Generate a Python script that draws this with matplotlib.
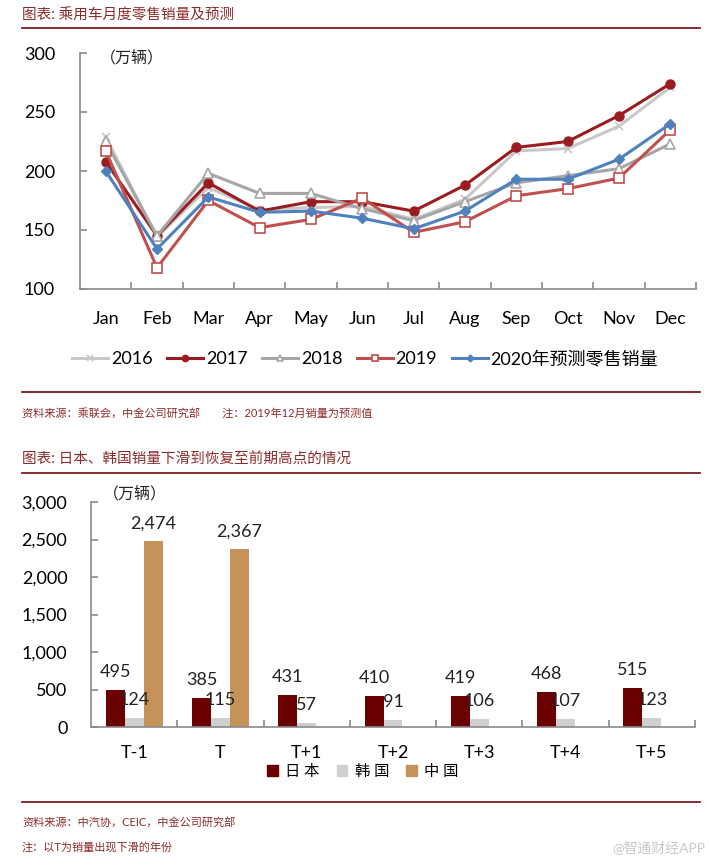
import matplotlib
matplotlib.use("Agg")
import matplotlib.pyplot as plt
from matplotlib.lines import Line2D
from matplotlib.patches import Patch
from matplotlib.ticker import FuncFormatter
import numpy as np

plt.rcParams['font.family'] = ['Lato', 'Noto Sans CJK SC', 'DejaVu Sans']

# monthly retail sales (万辆)
months = ['Jan', 'Feb', 'Mar', 'Apr', 'May', 'Jun', 'Jul', 'Aug', 'Sep', 'Oct', 'Nov', 'Dec']
sales_2016 = [229, 144, 186, 167, 169, 170, 159, 176, 217, 219, 238, 271]
sales_2017 = [208, 145, 190, 166, 174, 174, 166, 188, 220, 225, 247, 274]
sales_2018 = [225, 145, 198, 181, 181, 168, 158, 174, 190, 196, 202, 223]
sales_2019 = [217, 118, 175, 152, 159, 177, 148, 157, 179, 185, 194, 235]
sales_2020 = [200, 134, 178, 165, 166, 160, 151, 166, 193, 193, 210, 240]
line_labels = ['2016', '2017', '2018', '2019', '2020年预测零售销量']

# japan / korea / china sales around the downturn year T
periods = ['T-1', 'T', 'T+1', 'T+2', 'T+3', 'T+4', 'T+5']
japan = [495, 385, 431, 410, 419, 468, 515]
korea = [124, 115, 57, 91, 106, 107, 123]
china = [2474, 2367, np.nan, np.nan, np.nan, np.nan, np.nan]
bar_labels = ['日 本', '韩 国', '中 国']

W, H = 709, 867
dark_red = '#8B2B2B'
rule_red = '#7A1E1E'
axis_gray = '#8A8A8A'


def fx(px):
    return px / W


def fy(py):
    return 1 - py / H


fig = plt.figure(figsize=(W / 100, H / 100), dpi=100)


def rule(y):
    fig.add_artist(Line2D([fx(22), fx(700)], [fy(y), fy(y)], transform=fig.transFigure,
                          color=rule_red, lw=1.3))


def style_axes(ax, pad, xpad):
    for s in ['top', 'right']:
        ax.spines[s].set_visible(False)
    for s in ['left', 'bottom']:
        ax.spines[s].set_color(axis_gray)
        ax.spines[s].set_linewidth(1.2)
    ax.tick_params(axis='y', direction='in', length=5, width=1.2, color=axis_gray,
                   labelsize=13, pad=pad)
    ax.tick_params(axis='x', which='major', length=0, labelsize=13, pad=xpad)
    ax.tick_params(axis='x', which='minor', direction='in', length=5, width=1.2, color=axis_gray)


# ---------------- top chart: monthly line chart ----------------
fig.text(fx(22), fy(15), '图表: 乘用车月度零售销量及预测', color=dark_red, fontsize=10.5,
         va='center', ha='left')
rule(28)

ax1 = fig.add_axes([fx(80), fy(289), fx(696) - fx(80), fy(53) - fy(289)])
x = np.arange(len(months)) + 0.5
ax1.plot(x, sales_2016, color='#C8C8C8', lw=2.2, marker='x', ms=6, mew=1.2, label=line_labels[0])
ax1.plot(x, sales_2017, color='#9B1C20', lw=2.2, marker='o', ms=6.5, label=line_labels[1])
ax1.plot(x, sales_2018, color='#A6A6A6', lw=2.2, marker='^', ms=6.5, mfc='white', mew=1.2,
         label=line_labels[2])
ax1.plot(x, sales_2019, color='#C0504D', lw=2.2, marker='s', ms=6.5, mfc='white', mew=1.2,
         label=line_labels[3])
ax1.plot(x, sales_2020, color='#4F81BD', lw=2.2, marker='D', ms=5, label=line_labels[4])
ax1.set_xlim(0, 12)
ax1.set_ylim(100, 300)
ax1.set_yticks([100, 150, 200, 250, 300])
ax1.set_xticks(x)
ax1.set_xticklabels(months)
ax1.set_xticks(np.arange(1, 13), minor=True)
style_axes(ax1, 18, 15.5)
ax1.text(fx(100), fy(58), '（万辆）', transform=fig.transFigure, fontsize=11.5, va='center',
         color='#222222')

fig.legend(*ax1.get_legend_handles_labels(), loc='center', bbox_to_anchor=(fx(365), fy(359)),
           ncol=5, frameon=False, fontsize=13, handlelength=2.0, handletextpad=0.15,
           columnspacing=0.8, markerscale=0.7)

rule(392)
fig.text(fx(22), fy(413), '资料来源：乘联会，中金公司研究部　　注：2019年12月销量为预测值',
         color=dark_red, fontsize=8, va='center')

# ---------------- bottom chart: grouped bars ----------------
fig.text(fx(22), fy(460), '图表: 日本、韩国销量下滑到恢复至前期高点的情况', color=dark_red,
         fontsize=10.5, va='center')
rule(473)

ax2 = fig.add_axes([fx(91), fy(727), fx(695) - fx(91), fy(502) - fy(727)])
xb = np.arange(len(periods)) + 0.5
bw = 0.22
colors = ['#6B0000', '#D0D0D0', '#C5925A']
for i, (vals, c, lab) in enumerate(zip([japan, korea, china], colors, bar_labels)):
    pos = xb + (i - 1) * bw
    ax2.bar(pos, vals, width=bw, color=c, label=lab)
    for p, v in zip(pos, vals):
        if np.isnan(v):
            continue
        ax2.annotate(f'{v:,.0f}', (p, v), xytext=(0, 13), textcoords='offset points',
                     ha='center', va='center', fontsize=13, color='#222222')
ax2.set_xlim(0, 7)
ax2.set_ylim(0, 3000)
ax2.set_yticks(np.arange(0, 3001, 500))
ax2.yaxis.set_major_formatter(FuncFormatter(lambda v, _: f'{v:,.0f}'))
ax2.set_xticks(xb)
ax2.set_xticklabels(periods)
ax2.set_xticks(np.arange(1, 8), minor=True)
style_axes(ax2, 17, 13)
ax2.text(fx(103), fy(494), '（万辆）', transform=fig.transFigure, fontsize=11.5, va='center',
         color='#222222')

handles = [Patch(color=c) for c in colors]
fig.legend(handles, bar_labels, loc='center', bbox_to_anchor=(fx(363), fy(772)), ncol=3,
           frameon=False, fontsize=11, handlelength=0.7, handleheight=0.7,
           handletextpad=0.5, columnspacing=1.1)

rule(802)
fig.text(fx(22), fy(822), '资料来源：中汽协，CEIC，中金公司研究部', color=dark_red, fontsize=8,
         va='center')
fig.text(fx(22), fy(847), '注：以T为销量出现下滑的年份', color=dark_red, fontsize=8, va='center')
fig.text(fx(705), fy(848), '@智通财经APP', color='#C8C8C8', fontsize=10, va='center', ha='right')

fig.savefig('out.png', dpi=100)
